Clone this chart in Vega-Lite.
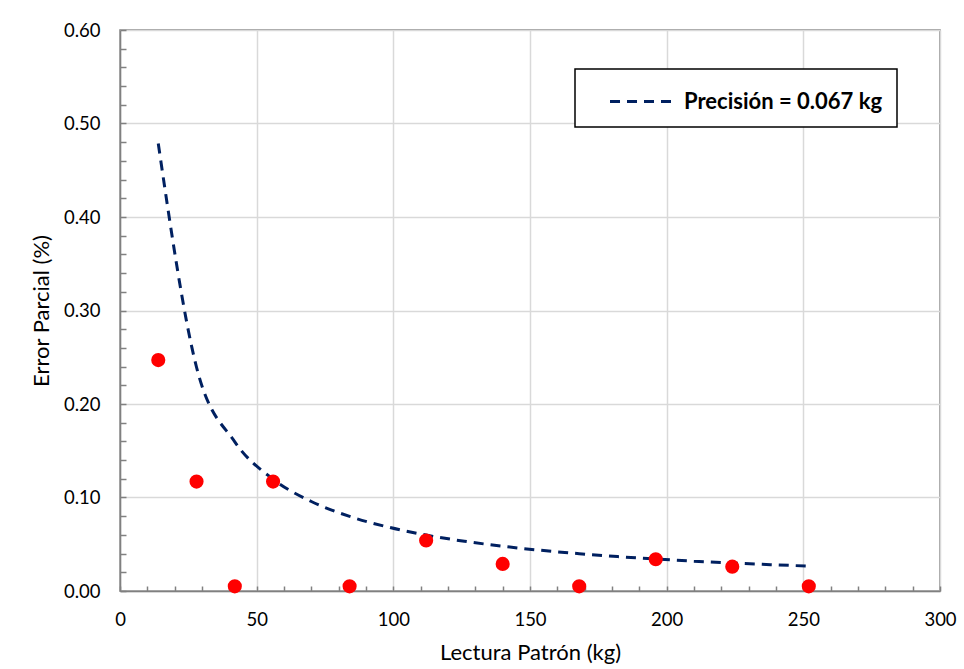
{
  "$schema": "https://vega.github.io/schema/vega-lite/v6.json",
  "width": 820,
  "height": 561,
  "autosize": "none",
  "padding": {"left": 120, "top": 30, "right": 24, "bottom": 78},
  "background": "white",
  "config": {
    "font": "Lato",
    "view": {"stroke": "#808080", "strokeWidth": 1.5},
    "axis": {
      "domainColor": "#808080",
      "domainWidth": 1.5,
      "tickColor": "#808080",
      "tickWidth": 1.5,
      "gridColor": "#d9d9d9",
      "gridWidth": 1.5,
      "labelFont": "Lato",
      "labelFontSize": 18.5,
      "labelColor": "#000000",
      "titleFont": "Lato",
      "titleFontSize": 22,
      "titleFontWeight": "normal",
      "titleColor": "#000000",
      "labelOverlap": false,
      "labelBound": false,
      "labelFlush": false
    }
  },
  "datasets": {
    "points": [
      {"x": 14, "y": 0.247},
      {"x": 28, "y": 0.117},
      {"x": 42, "y": 0.005},
      {"x": 56, "y": 0.117},
      {"x": 84, "y": 0.005},
      {"x": 112, "y": 0.054},
      {"x": 140, "y": 0.029},
      {"x": 168, "y": 0.005},
      {"x": 196, "y": 0.034},
      {"x": 224, "y": 0.026},
      {"x": 252, "y": 0.005}
    ],
    "curve": [
      {"x": 14, "y": 0.4786, "s": "Precisión = 0.067 kg"},
      {"x": 28, "y": 0.2393, "s": "Precisión = 0.067 kg"},
      {"x": 42, "y": 0.1595, "s": "Precisión = 0.067 kg"},
      {"x": 56, "y": 0.1196, "s": "Precisión = 0.067 kg"},
      {"x": 70, "y": 0.0957, "s": "Precisión = 0.067 kg"},
      {"x": 84, "y": 0.0798, "s": "Precisión = 0.067 kg"},
      {"x": 98, "y": 0.0684, "s": "Precisión = 0.067 kg"},
      {"x": 112, "y": 0.0598, "s": "Precisión = 0.067 kg"},
      {"x": 126, "y": 0.0532, "s": "Precisión = 0.067 kg"},
      {"x": 140, "y": 0.0479, "s": "Precisión = 0.067 kg"},
      {"x": 154, "y": 0.0435, "s": "Precisión = 0.067 kg"},
      {"x": 168, "y": 0.0399, "s": "Precisión = 0.067 kg"},
      {"x": 182, "y": 0.0368, "s": "Precisión = 0.067 kg"},
      {"x": 196, "y": 0.0342, "s": "Precisión = 0.067 kg"},
      {"x": 210, "y": 0.0319, "s": "Precisión = 0.067 kg"},
      {"x": 224, "y": 0.0299, "s": "Precisión = 0.067 kg"},
      {"x": 238, "y": 0.0282, "s": "Precisión = 0.067 kg"},
      {"x": 252, "y": 0.0266, "s": "Precisión = 0.067 kg"}
    ]
  },
  "encoding": {
    "x": {
      "field": "x",
      "type": "quantitative",
      "scale": {"domain": [0, 300], "nice": false, "zero": false},
      "axis": {
        "title": "Lectura Patrón (kg)",
        "titlePadding": 14,
        "values": [0,10,20,30,40,50,60,70,80,90,100,110,120,130,140,150,160,170,180,190,200,210,220,230,240,250,260,270,280,290,300],
        "labelExpr": "datum.value % 50 === 0 ? format(datum.value, 'd') : ''",
        "tickSize": -5,
        "labelPadding": 24,
        "gridOpacity": {"condition": {"test": "datum.value % 50 === 0", "value": 1}, "value": 0}
      }
    },
    "y": {
      "field": "y",
      "type": "quantitative",
      "scale": {"domain": [0, 0.6], "nice": false, "zero": false},
      "axis": {
        "title": "Error Parcial (%)",
        "titlePadding": 10,
        "values": [0,0.02,0.04,0.06,0.08,0.1,0.12,0.14,0.16,0.18,0.2,0.22,0.24,0.26,0.28,0.3,0.32,0.34,0.36,0.38,0.4,0.42,0.44,0.46,0.48,0.5,0.52,0.54,0.56,0.58,0.6],
        "labelExpr": "abs(datum.value*10 - round(datum.value*10)) < 0.001 ? format(datum.value, '.2f') : ''",
        "tickSize": -6,
        "labelPadding": 26,
        "gridOpacity": {"condition": {"test": "abs(datum.value*10 - round(datum.value*10)) < 0.001", "value": 1}, "value": 0}
      }
    }
  },
  "layer": [
    {
      "data": {"name": "curve"},
      "mark": {"type": "line", "strokeWidth": 3, "strokeDash": [10, 7], "interpolate": "monotone"},
      "encoding": {
        "stroke": {
          "field": "s",
          "type": "nominal",
          "scale": {"range": ["#002060"]},
          "legend": {
            "title": null,
            "orient": "none",
            "legendX": 455,
            "legendY": 39,
            "direction": "vertical",
            "fillColor": "white",
            "strokeColor": "#000000",
            "padding": 14,
            "symbolType": "M-2,0H2",
            "symbolSize": 1122,
            "symbolStrokeWidth": 3,
            "symbolDash": [10, 7],
            "symbolStrokeColor": "#002060",
            "symbolOffset": 36,
            "labelOffset": 22,
            "labelFont": "Lato",
            "labelFontSize": 22,
            "labelFontWeight": "bold",
            "labelColor": "#000000",
            "labelLimit": 400,
            "encode": {"legend": {"update": {"strokeWidth": {"value": 1.5}}}}
          }
        }
      }
    },
    {
      "data": {"name": "points"},
      "mark": {"type": "point", "filled": true, "shape": "circle", "size": 200, "color": "#ff0000", "opacity": 1}
    }
  ]
}
